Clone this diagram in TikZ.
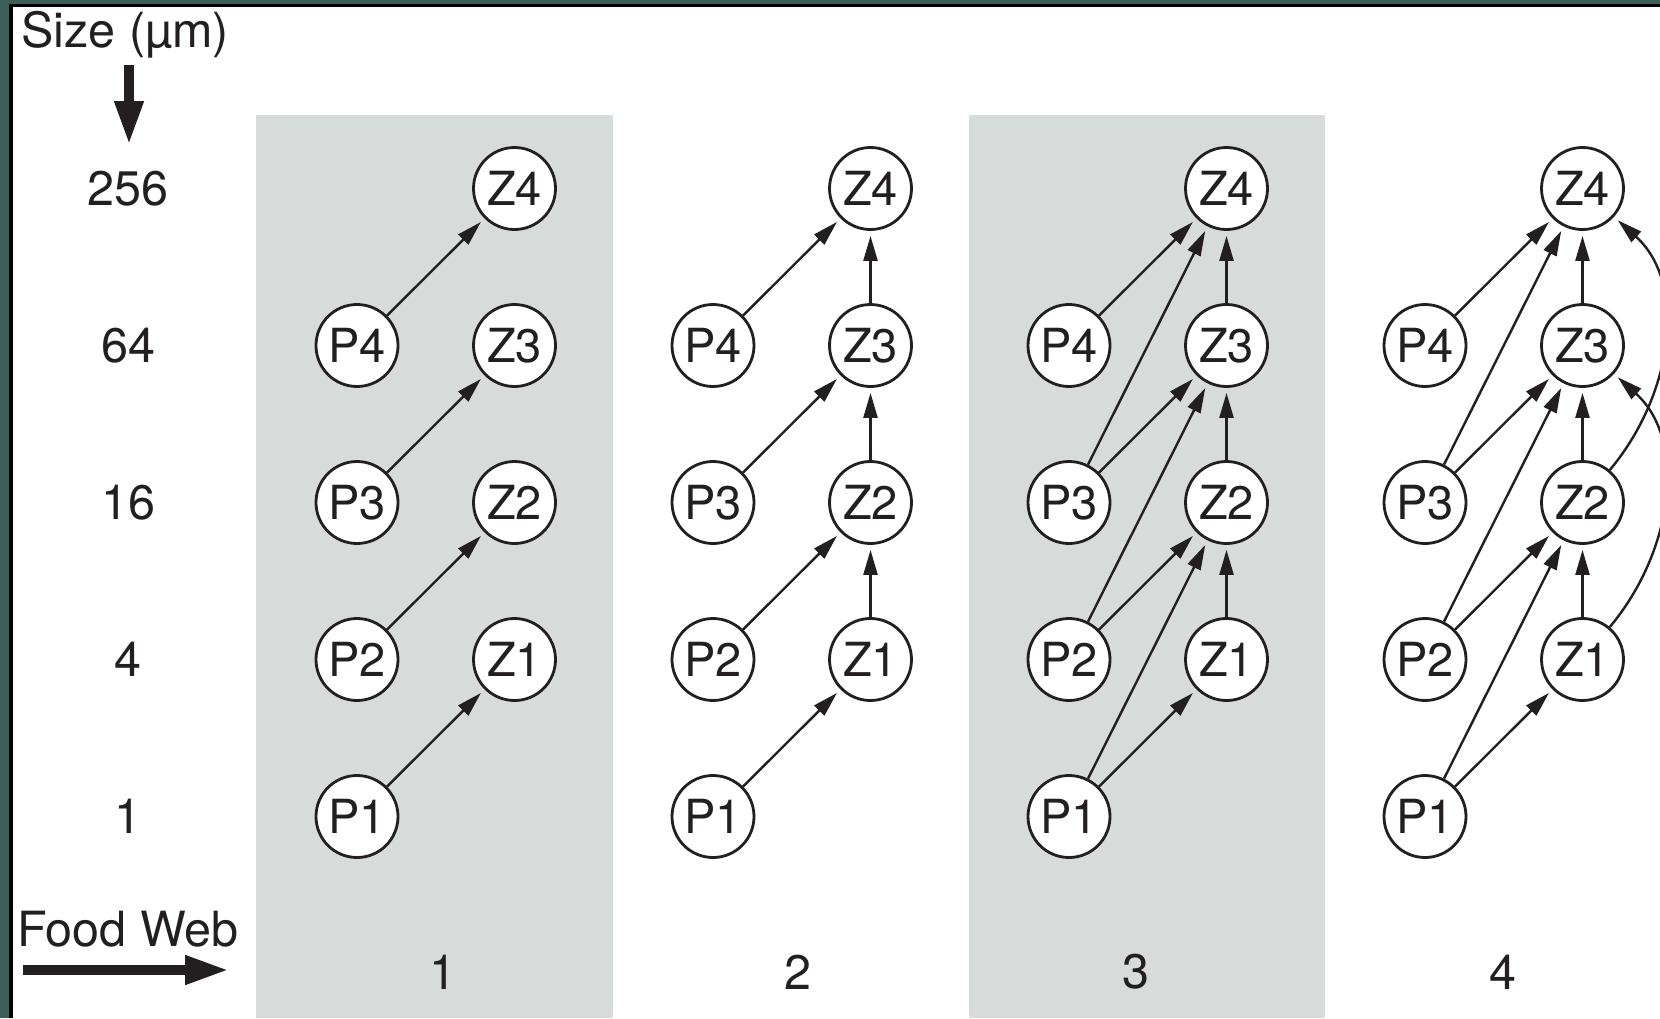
\documentclass[tikz,border=0pt]{standalone}
\usepackage{fontspec}
\setmainfont{TeX Gyre Heros}
\usetikzlibrary{arrows.meta}
\definecolor{frameteal}{RGB}{62,94,90}
\definecolor{panelgray}{RGB}{215,219,218}
\definecolor{ink}{RGB}{35,31,32}
\begin{document}
\begin{tikzpicture}[x=1pt,y=-1pt,
  lbl/.style={font=\fontsize{48.5}{52}\selectfont, text=ink, inner sep=0pt},
  sp/.style={circle, draw=ink, fill=white, line width=2.8pt, minimum size=82pt,
    inner sep=0pt, font=\fontsize{47}{50}\selectfont, text=ink},
  edge/.style={draw=ink, line width=2.4pt, -{Triangle[length=25pt,width=14pt]},
    shorten >=5pt},
  bigarrow/.style={draw=ink, line width=10pt, -{Triangle[length=44pt,width=27pt]}}
]
\useasboundingbox (0,0) rectangle (1660,1018);
% frame and background
\fill[frameteal] (0,0) rectangle (1660,1018);
\fill[black] (8.5,4) rectangle (1660,1018);
\fill[white] (13,7) rectangle (1660,1018);
% shaded panels for webs 1 and 3
\fill[panelgray] (256,115) rectangle (613,1018);
\fill[panelgray] (969,115) rectangle (1325,1018);

% axis labels
\node[lbl, anchor=base west] (sizelbl) at (21,47) {Size (µm)};
\coordinate (sizetop) at (129,65);
\coordinate (sizetip) at (129,145);
\draw[bigarrow] (sizetop) -- (sizetip);
\node[lbl] (s256) at (128,188.5) {256};
\node[lbl] (s64)  at (128,345.5) {64};
\node[lbl] (s16)  at (128,502.5) {16};
\node[lbl] (s4)   at (128,659.5) {4};
\node[lbl] (s1)   at (128,816.5) {1};
\node[lbl, anchor=base west] (weblbl) at (17,946) {Food Web};
\coordinate (webtail) at (23,970);
\coordinate (webtip) at (229,970);
\draw[bigarrow] (webtail) -- (webtip);
\node[lbl] (w1) at (443,972) {1};
\node[lbl] (w2) at (798,972) {2};
\node[lbl] (w3) at (1136,972) {3};
\node[lbl] (w4) at (1503,972) {4};

% nodes: phytoplankton P and zooplankton Z for each web
\foreach \w in {1,2,3,4} {
  \pgfmathsetmacro{\px}{357+356*(\w-1)}
  \foreach \k/\y in {1/816.5,2/659.5,3/502.5,4/345.5}
    \node[sp] (P\k w\w) at (\px,\y) {P\k};
  \foreach \k/\y in {1/659.5,2/502.5,3/345.5,4/188.5}
    \node[sp] (Z\k w\w) at (\px+157.5,\y) {Z\k};
}

% grazing on same-size prey (all webs)
\foreach \w in {1,2,3,4}
  \foreach \k in {1,2,3,4}
    \draw[edge] (P\k w\w) -- (Z\k w\w);
% zooplankton eating smaller zooplankton (webs 2-4)
\foreach \w in {2,3,4}
  \foreach \k/\n in {1/2,2/3,3/4}
    \draw[edge] (Z\k w\w) -- (Z\n w\w);
% zooplankton eating smaller phytoplankton (webs 3-4)
\foreach \w in {3,4}
  \foreach \k/\n in {1/2,2/3,3/4}
    \draw[edge] (P\k w\w) -- (Z\n w\w);
% two-step predation in web 4
\draw[edge] (Z2w4) to[out=50,in=-42] (Z4w4);
\draw[edge] (Z1w4) to[out=50,in=-42] (Z3w4);
\end{tikzpicture}
\end{document}
